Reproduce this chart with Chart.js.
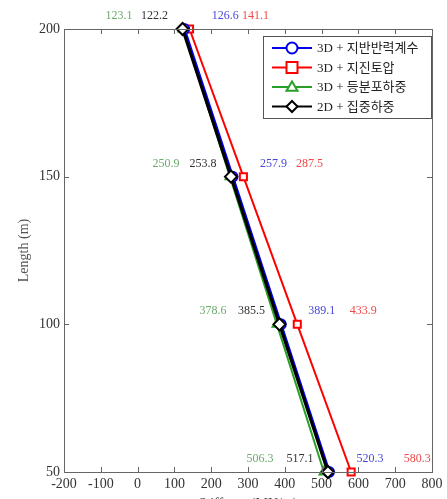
<!DOCTYPE html>
<html lang="ko">
<head>
    <meta charset="UTF-8">
    <title>Stiffness vs Length</title>
    <script src="https://cdn.jsdelivr.net/npm/chart.js"></script>
    <style>
        html, body { margin: 0; padding: 0; background: #fff; overflow: hidden; }
        .wrap { width: 447px; height: 513px; }
    </style>
</head>
<body>
<div class="wrap">
    <canvas id="stiffChart" width="447" height="513"></canvas>
</div>

<script>
    // data
    const lengths = [200, 150, 100, 50];
    const seriesNames = ['3D + 지반반력계수', '3D + 지진토압', '3D + 등분포하중', '2D + 집중하중'];
    const subgrade = [126.6, 257.9, 389.1, 520.3];
    const seismic = [141.1, 287.5, 433.9, 580.3];
    const uniform = [123.1, 250.9, 378.6, 506.3];
    const concentrated = [122.2, 253.8, 385.5, 517.1];
    const xTicks = [-200, -100, 0, 100, 200, 300, 400, 500, 600, 700, 800];
    const yTicks = [50, 100, 150, 200];

    const serif = "'Liberation Serif', 'Noto Sans CJK KR', serif";

    // value label offsets (px) from each point, per series
    const labelDx = [41, 66, -64, -28];
    const labelColors = ['#4747d6', '#f04848', '#6aaa6a', '#333333'];

    function pts(vals) {
        return vals.map((v, i) => ({ x: v, y: lengths[i] }));
    }

    const frameAndTicks = {
        id: 'frameAndTicks',
        afterDatasetsDraw(chart) {
            const { ctx, chartArea: a, scales: { x, y } } = chart;
            ctx.save();
            ctx.strokeStyle = '#666';
            ctx.lineWidth = 1;
            ctx.strokeRect(a.left + 0.5, a.top + 0.5, a.right - a.left, a.bottom - a.top);
            ctx.beginPath();
            xTicks.forEach(t => {
                const px = Math.round(x.getPixelForValue(t)) + 0.5;
                ctx.moveTo(px, a.bottom); ctx.lineTo(px, a.bottom - 5);
                ctx.moveTo(px, a.top); ctx.lineTo(px, a.top + 5);
            });
            yTicks.forEach(t => {
                const py = Math.round(y.getPixelForValue(t)) + 0.5;
                ctx.moveTo(a.left, py); ctx.lineTo(a.left + 5, py);
                ctx.moveTo(a.right, py); ctx.lineTo(a.right - 5, py);
            });
            ctx.stroke();
            ctx.restore();
        }
    };

    const valueLabels = {
        id: 'valueLabels',
        afterDraw(chart) {
            const { ctx, scales: { x, y } } = chart;
            ctx.save();
            ctx.font = '12px ' + serif;
            ctx.textAlign = 'center';
            ctx.textBaseline = 'middle';
            chart.data.datasets.forEach((ds, i) => {
                ctx.fillStyle = labelColors[i];
                ds.data.forEach(p => {
                    const px = x.getPixelForValue(p.x) + labelDx[i];
                    const py = y.getPixelForValue(p.y) - 13;
                    ctx.fillText(p.x.toFixed(1), px, py);
                });
            });
            ctx.restore();
        }
    };

    function drawMarker(ctx, style, cx, cy, r) {
        if (style === 'circle') {
            ctx.arc(cx, cy, r, 0, Math.PI * 2);
        } else if (style === 'rect') {
            ctx.rect(cx - r, cy - r, 2 * r, 2 * r);
        } else if (style === 'triangle') {
            ctx.moveTo(cx, cy - r);
            ctx.lineTo(cx + r, cy + r * 0.7);
            ctx.lineTo(cx - r, cy + r * 0.7);
            ctx.closePath();
        } else {
            ctx.moveTo(cx, cy - r);
            ctx.lineTo(cx + r, cy);
            ctx.lineTo(cx, cy + r);
            ctx.lineTo(cx - r, cy);
            ctx.closePath();
        }
    }

    const boxLegend = {
        id: 'boxLegend',
        afterDraw(chart) {
            const { ctx } = chart;
            const bx = 263, by = 36, bw = 168, bh = 82;
            ctx.save();
            ctx.fillStyle = '#fff';
            ctx.fillRect(bx, by, bw, bh);
            ctx.strokeStyle = '#555';
            ctx.lineWidth = 1;
            ctx.strokeRect(bx + 0.5, by + 0.5, bw, bh);
            chart.data.datasets.forEach((ds, i) => {
                const ry = by + 12 + i * 19.5;
                ctx.strokeStyle = ds.borderColor;
                ctx.lineWidth = 2;
                ctx.beginPath();
                ctx.moveTo(bx + 9, ry); ctx.lineTo(bx + 49, ry);
                ctx.stroke();
                ctx.fillStyle = '#fff';
                ctx.beginPath();
                drawMarker(ctx, ds.pointStyle, bx + 29, ry, 5.5);
                ctx.fill();
                ctx.stroke();
                ctx.fillStyle = '#222';
                ctx.font = '13px ' + serif;
                ctx.textAlign = 'left';
                ctx.textBaseline = 'middle';
                ctx.fillText(ds.label, bx + 54, ry + 1);
            });
            ctx.restore();
        }
    };

    function series(label, vals, color, style, width, radius, order) {
        return {
            label: label,
            data: pts(vals),
            borderColor: color,
            backgroundColor: '#fff',
            borderWidth: width,
            pointStyle: style,
            pointRadius: radius,
            pointBorderWidth: 2,
            pointBackgroundColor: '#fff',
            pointBorderColor: color,
            showLine: true,
            clip: false,
            order: order
        };
    }

    const ctx = document.getElementById('stiffChart').getContext('2d');
    new Chart(ctx, {
        type: 'scatter',
        data: {
            datasets: [
                series(seriesNames[0], subgrade, '#0000ee', 'circle', 3, 5, 1),
                series(seriesNames[1], seismic, '#ff0000', 'rect', 2, 5, 3),
                series(seriesNames[2], uniform, '#2aa02a', 'triangle', 2, 5, 2),
                series(seriesNames[3], concentrated, '#000000', 'rectRot', 3, 6, 0)
            ]
        },
        options: {
            responsive: false,
            animation: false,
            layout: { padding: { top: 29, right: 15, left: 0, bottom: 0 } },
            plugins: { legend: { display: false }, tooltip: { enabled: false } },
            scales: {
                x: {
                    type: 'linear',
                    min: -200, max: 800,
                    afterBuildTicks: s => { s.ticks = xTicks.map(v => ({ value: v })); },
                    afterFit: s => { s.height = 41; },
                    grid: { display: false, drawTicks: false },
                    border: { display: false },
                    ticks: { autoSkip: false, maxRotation: 0, padding: 4, color: '#333', font: { family: serif, size: 14 } },
                    title: { display: true, text: 'Stiffness (MN/m)', color: '#444', padding: { top: 0, bottom: 0 }, font: { family: serif, size: 14 } }
                },
                y: {
                    type: 'linear',
                    min: 50, max: 200,
                    afterBuildTicks: s => { s.ticks = yTicks.map(v => ({ value: v })); },
                    afterFit: s => { s.width = 64; },
                    grid: { display: false, drawTicks: false },
                    border: { display: false },
                    ticks: { autoSkip: false, padding: 4, color: '#333', font: { family: serif, size: 14 } },
                    title: { display: true, text: 'Length (m)', color: '#555', padding: { top: 16, bottom: 0 }, font: { family: serif, size: 14 } }
                }
            }
        },
        plugins: [frameAndTicks, valueLabels, boxLegend]
    });
</script>
</body>
</html>
